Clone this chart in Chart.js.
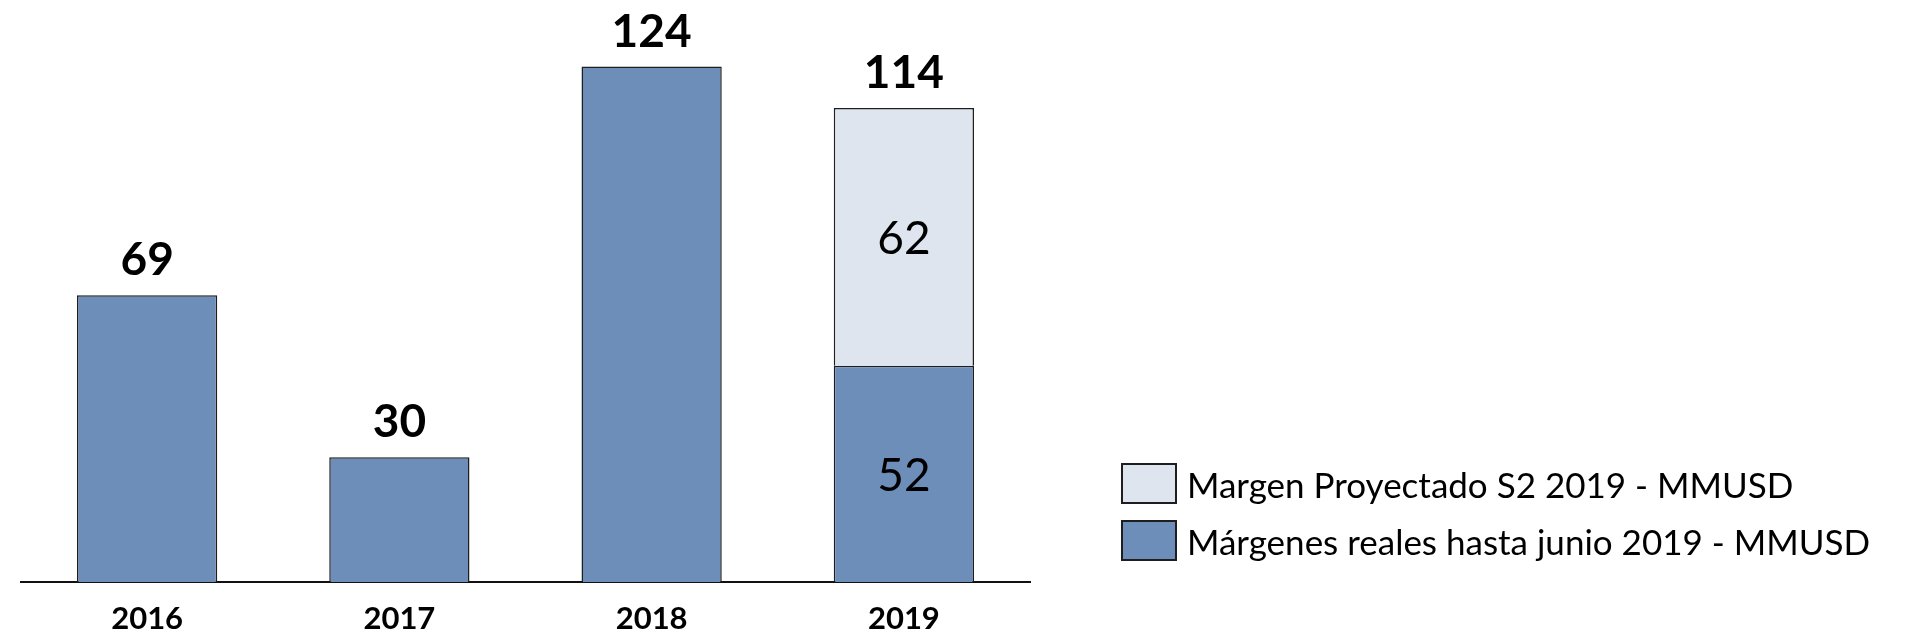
<!DOCTYPE html>
<html lang="es">
<head>
    <meta charset="UTF-8">
    <title>Márgenes 2016-2019</title>
    <script src="https://cdn.jsdelivr.net/npm/chart.js"></script>
    <style>
        html, body {
            margin: 0;
            padding: 0;
            background: #ffffff;
        }
        .wrap {
            position: relative;
            width: 1910px;
            height: 637px;
        }
        .legend {
            position: absolute;
            left: 1121px;
            top: 463px;
            font-family: Lato, "Open Sans", sans-serif;
            font-size: 35px;
            color: #000;
        }
        .legend .item {
            display: flex;
            align-items: center;
            height: 41px;
            margin-bottom: 16px;
        }
        .legend .box {
            width: 52px;
            height: 37px;
            border: 2px solid #1e1e1e;
            margin-right: 10px;
        }
    </style>
</head>
<body>
    <div class="wrap">
        <canvas id="marginChart" width="1910" height="637"></canvas>
        <div class="legend" id="legend"></div>
    </div>

    <script>
        // Data (MMUSD)
        const years = ['2016', '2017', '2018', '2019'];
        const realMargins = [69, 30, 124, 52];
        const projectedMargins = [null, null, null, 62];
        const seriesNames = ['Márgenes reales hasta junio 2019 - MMUSD', 'Margen Proyectado S2 2019 - MMUSD'];
        const seriesColors = ['#6e8eba', '#dee5ef'];

        const FONT = 'Lato, "Open Sans", sans-serif';

        // Totals above the bars and values inside the stacked 2019 bar
        const barLabels = {
            id: 'barLabels',
            afterDatasetsDraw(chart) {
                const ctx = chart.ctx;
                const realMeta = chart.getDatasetMeta(0);
                const projMeta = chart.getDatasetMeta(1);
                ctx.save();
                ctx.fillStyle = '#000';
                ctx.textAlign = 'center';
                years.forEach((yr, i) => {
                    const proj = projectedMargins[i];
                    const total = realMargins[i] + (proj || 0);
                    const top = proj ? projMeta.data[i] : realMeta.data[i];
                    ctx.font = 'bold 46px ' + FONT;
                    ctx.textBaseline = 'alphabetic';
                    ctx.fillText(total, top.x, top.y - 20);
                    if (proj) {
                        ctx.font = '46px ' + FONT;
                        ctx.textBaseline = 'middle';
                        [realMeta.data[i], projMeta.data[i]].forEach((el, k) => {
                            const v = k === 0 ? realMargins[i] : proj;
                            ctx.fillText(v, el.x, (el.y + el.base) / 2 + 2);
                        });
                    }
                });
                ctx.restore();
            }
        };

        new Chart(document.getElementById('marginChart'), {
            type: 'bar',
            data: {
                labels: years,
                datasets: [
                    {
                        label: seriesNames[0],
                        data: realMargins,
                        backgroundColor: seriesColors[0],
                        borderColor: '#1e1e1e',
                        borderWidth: 1.5,
                        barPercentage: 0.556,
                        categoryPercentage: 1
                    },
                    {
                        label: seriesNames[1],
                        data: projectedMargins,
                        backgroundColor: seriesColors[1],
                        borderColor: '#1e1e1e',
                        borderWidth: 1.5,
                        barPercentage: 0.556,
                        categoryPercentage: 1
                    }
                ]
            },
            options: {
                responsive: false,
                animation: false,
                layout: {
                    padding: { left: 21, right: 880, top: 0, bottom: 0 }
                },
                scales: {
                    x: {
                        stacked: true,
                        grid: { display: false, drawTicks: false },
                        border: { display: true, color: '#111', width: 2 },
                        ticks: {
                            color: '#000',
                            padding: 18,
                            font: { family: FONT, size: 31, weight: 'bold' }
                        },
                        afterFit(scale) {
                            scale.height = 55;
                        }
                    },
                    y: {
                        stacked: true,
                        display: false,
                        min: 0,
                        max: 140
                    }
                },
                plugins: {
                    legend: { display: false },
                    tooltip: { enabled: false }
                }
            },
            plugins: [barLabels]
        });

        // Legend, top entry is the upper stack segment
        const legend = document.getElementById('legend');
        [1, 0].forEach(i => {
            const item = document.createElement('div');
            item.className = 'item';
            item.innerHTML = '<div class="box" style="background:' + seriesColors[i] + '"></div><span>' + seriesNames[i] + '</span>';
            legend.appendChild(item);
        });
    </script>
</body>
</html>
